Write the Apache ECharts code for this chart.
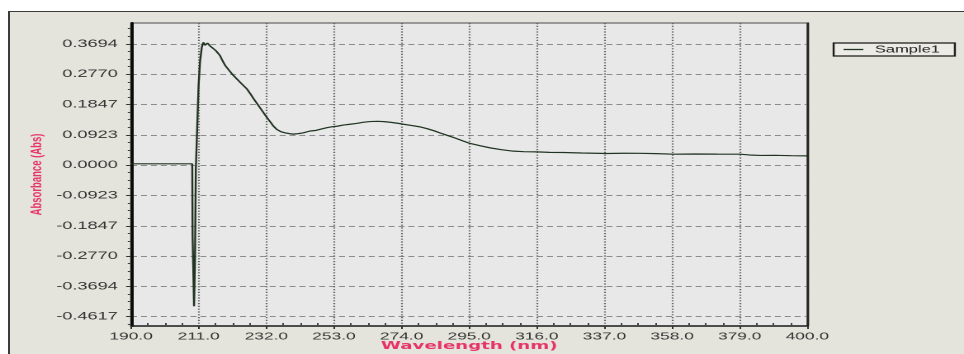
<!DOCTYPE html>
<html><head><meta charset="utf-8">
<script src="https://cdn.jsdelivr.net/npm/echarts@6/dist/echarts.min.js"></script>
<style>
html,body{margin:0;padding:0;background:#fff;width:964px;height:354px;overflow:hidden;}
#panel{position:absolute;left:8px;top:11px;right:0;bottom:0;background:#e5e4dc;border-left:2px solid #3a3a3a;border-top:1.5px solid #3a3a3a;}
#chart{position:absolute;left:0;top:0;width:584px;height:354px;transform:scaleX(1.650685);transform-origin:0 0;}
</style></head><body>
<div id="panel"></div>
<div id="chart"></div>
<script>
// ---- data ----
const wavelength = [190.0, 200.0, 209.0, 209.1, 209.55, 209.85, 210.1, 210.7, 210.95, 211.4, 211.95, 212.45, 212.95, 213.7, 214.4, 215.1, 216.3, 217.6, 218.4, 219.2, 220.5, 221.7, 222.8, 224.3, 225.9, 227.0, 228.0, 229.3, 230.6, 231.9, 233.2, 234.2, 235.2, 236.5, 237.8, 239.1, 240.4, 242.0, 243.5, 244.5, 245.6, 247.5, 249.0, 250.8, 252.5, 253.9, 255.9, 258.0, 260.0, 262.0, 264.2, 266.5, 268.5, 270.4, 272.5, 274.6, 277.0, 279.5, 281.8, 284.0, 286.0, 288.0, 290.5, 293.0, 295.3, 298.5, 301.5, 305.0, 308.7, 312.0, 316.0, 320.0, 324.2, 330.0, 337.7, 343.0, 348.0, 353.0, 358.4, 365.0, 372.0, 379.1, 382.0, 385.4, 390.0, 395.0, 400.0];
const absorbance = [0.004, 0.004, 0.004, -0.215, -0.43, -0.28, -0.015, -0.01, 0.24, 0.314, 0.359, 0.374, 0.365, 0.372, 0.364, 0.359, 0.349, 0.334, 0.318, 0.304, 0.288, 0.274, 0.263, 0.248, 0.233, 0.218, 0.203, 0.185, 0.167, 0.149, 0.132, 0.119, 0.109, 0.102, 0.0985, 0.096, 0.0945, 0.096, 0.0985, 0.097, 0.104, 0.106, 0.110, 0.114, 0.117, 0.1185, 0.122, 0.1246, 0.127, 0.1305, 0.1328, 0.1335, 0.1325, 0.1307, 0.128, 0.1246, 0.121, 0.117, 0.1115, 0.105, 0.098, 0.0912, 0.083, 0.074, 0.066, 0.059, 0.0526, 0.047, 0.0426, 0.041, 0.0404, 0.039, 0.0386, 0.037, 0.0355, 0.0362, 0.036, 0.035, 0.0334, 0.034, 0.0335, 0.0334, 0.031, 0.0295, 0.030, 0.0288, 0.0283];
const seriesName = 'Sample1';
const xTicks = [190, 211, 232, 253, 274, 295, 316, 337, 358, 379, 400];
const yTicks = [-0.4617, -0.3694, -0.2770, -0.1847, -0.0923, 0.0000, 0.0923, 0.1847, 0.2770, 0.3694];
const xName = 'Wavelength (nm)';
const yName = 'Absorbance (Abs)';

function minorOf(ticks, n, lo, hi) {
  const out = [];
  const step = ticks[1] - ticks[0];
  for (let i = -1; i < ticks.length; i++) {
    const a = i < 0 ? ticks[0] - step : ticks[i];
    for (let k = 1; k < n; k++) {
      const v = a + step * k / n;
      if (v > lo && v < hi) out.push(v);
    }
  }
  return out;
}
const X_MIN = 190, X_MAX = 400, Y_MIN = -0.49, Y_MAX = 0.433;
const xMinor = minorOf(xTicks, 4, X_MIN, X_MAX);
const yMinor = minorOf(yTicks, 4, Y_MIN, Y_MAX);

const PINK = '#e63468';
const LINE = '#213321';
const chart = echarts.init(document.getElementById('chart'), null, {renderer: 'canvas', devicePixelRatio: 2});
chart.setOption({
  animation: false,
  backgroundColor: 'transparent',
  grid: {left: 79.4, right: 94.9, top: 23, bottom: 28, show: true, outerBoundsMode: 'none',
         containLabel: false,
         backgroundColor: '#e8e8e8', borderColor: '#4a4a4a', borderWidth: 1},
  legend: {
    data: [seriesName], left: 505, top: 43, itemWidth: 12, itemHeight: 1.3, icon: 'rect',
    padding: [1.5, 9, 1.5, 6], backgroundColor: '#ecebe6', borderColor: '#1a1a1a', borderWidth: 1.2,
    borderRadius: 0, itemStyle: {color: LINE},
    textStyle: {fontFamily: 'Liberation Sans', fontSize: 10, color: '#222', lineHeight: 10, padding: [0, 0, 0, 2]}
  },
  xAxis: [{
    type: 'value', min: X_MIN, max: X_MAX, position: 'bottom',
    name: xName, nameLocation: 'middle', nameGap: 14.5, nameMoveOverlap: false,
    nameTextStyle: {fontFamily: 'DejaVu Sans', fontWeight: 'bold', fontSize: 11, color: PINK},
    axisLine: {show: true, onZero: false, lineStyle: {color: '#1a1a1a', width: 1.5}},
    axisTick: {show: true, customValues: xTicks, length: 3, lineStyle: {color: '#333'}},
    axisLabel: {customValues: xTicks, formatter: v => Number(v).toFixed(1), margin: 5,
                fontFamily: 'Liberation Sans', fontSize: 10.5, color: '#333'},
    splitLine: {show: true, lineStyle: {type: [1.2, 1.6], color: '#666', width: 1.1}}
  }, {
    type: 'value', min: X_MIN, max: X_MAX, position: 'bottom',
    axisLine: {show: false, onZero: false}, axisLabel: {show: false}, splitLine: {show: false},
    axisTick: {show: true, inside: true, customValues: xMinor, length: 3, lineStyle: {color: '#444'}}
  }],
  yAxis: [{
    type: 'value', min: Y_MIN, max: Y_MAX, position: 'left',
    name: yName, nameLocation: 'middle', nameGap: 52, nameRotate: 90, nameMoveOverlap: false,
    nameTextStyle: {fontFamily: 'Liberation Sans Narrow, Liberation Sans', fontWeight: 'bold', fontSize: 9.5, color: PINK},
    axisLine: {show: true, onZero: false, lineStyle: {color: '#0a0a0a', width: 2}},
    axisTick: {show: true, customValues: yTicks, length: 3, lineStyle: {color: '#333'}},
    axisLabel: {customValues: yTicks, formatter: v => Number(v).toFixed(4), margin: 8,
                fontFamily: 'Liberation Sans', fontSize: 11, color: '#333'},
    splitLine: {show: true, lineStyle: {type: [3.6, 2.4], color: '#8c8c8c', width: 1}}
  }, {
    type: 'value', min: Y_MIN, max: Y_MAX, position: 'left',
    axisLine: {show: false, onZero: false}, axisLabel: {show: false}, splitLine: {show: false},
    axisTick: {show: true, customValues: yMinor, length: 2, lineStyle: {color: '#444'}}
  }, {
    type: 'value', min: Y_MIN, max: Y_MAX, position: 'right',
    axisLine: {show: true, onZero: false, lineStyle: {color: '#222', width: 1.3}},
    axisTick: {show: false}, axisLabel: {show: false}, splitLine: {show: false}
  }],
  series: [{
    name: seriesName, type: 'line', xAxisIndex: 0, yAxisIndex: 0,
    data: wavelength.map((w, i) => [w, absorbance[i]]),
    symbol: 'none', showSymbol: false, z: 5,
    lineStyle: {color: LINE, width: 1.2},
    itemStyle: {color: LINE}
  }]
});
</script>
</body></html>
